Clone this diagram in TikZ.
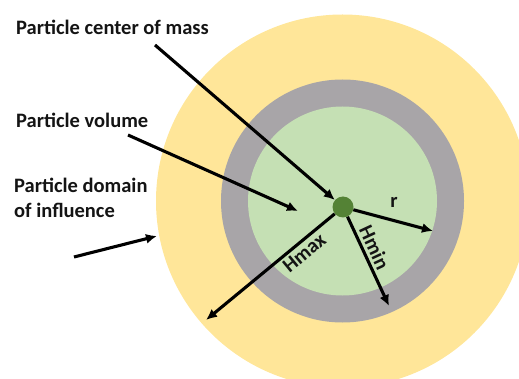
\documentclass[tikz,border=0pt]{standalone}
\usepackage{fontspec}
\setmainfont{Carlito}
\usepackage{xcolor}
\usetikzlibrary{arrows.meta}
\definecolor{domyellow}{RGB}{255, 230, 153}
\definecolor{shellgray}{RGB}{168, 165, 168}
\definecolor{volgreen}{RGB}{197, 224, 180}
\definecolor{dotgreen}{RGB}{84, 130, 53}

\tikzset{
  lbl/.style={font=\fontsize{20.5}{25}\selectfont\bfseries, text=black!92, inner sep=0pt},
  pointer/.style={line width=3.1pt, -{Latex[length=11pt,width=10pt]}}
}

\begin{document}
\begin{tikzpicture}[x=1pt,y=-1pt]
  \def\cx{342.5}
  \def\cy{201}
  \useasboundingbox (0,0) rectangle (519,379);

  %Circles (the outer one is cut by the frame)
  \begin{scope}
    \clip (0,0) rectangle (519,379);
    \fill[domyellow] (\cx,\cy) circle[radius=186.5pt];
  \end{scope}
  \fill[shellgray] (\cx,\cy) circle[radius=121.5pt];
  \fill[volgreen] (\cx,\cy) circle[radius=94.5pt];
  \node[circle, fill=dotgreen, minimum size=21pt, inner sep=0pt] (com) at (343,207) {};

  %Labels
  \node[lbl, anchor=base west] (lblmass) at (16,35) {Particle center of mass};
  \node[lbl, anchor=base west] (lblvolume) at (16,128) {Particle volume};
  \node[lbl, anchor=base west, align=left] (lbldomain) at (14,218) {Particle domain\\of influence};
  \node[lbl] (lblr) at (394,202) {r};

  %Arrow ends
  \coordinate (massstart) at (155,45);
  \coordinate (volstart) at (128,135);
  \coordinate (voltip) at (298,211);
  \coordinate (domstart) at (74,257);
  \coordinate (domtip) at (157,236);
  \coordinate (rtip) at (433,231);
  \coordinate (hmintip) at (389,306);
  \coordinate (hmaxtip) at (206,320);

  %Pointers
  \draw[pointer] (massstart) -- (com);
  \draw[pointer] (volstart) -- (voltip);
  \draw[pointer] (domstart) -- (domtip);
  \draw[pointer] (com) -- (rtip);
  \draw[pointer] (com) -- node[lbl, pos=0.4, sloped, above, inner sep=3pt] {Hmin} (hmintip);
  \draw[pointer] (com) -- node[lbl, pos=0.29, sloped, below, inner sep=2.5pt] {Hmax} (hmaxtip);
\end{tikzpicture}
\end{document}
